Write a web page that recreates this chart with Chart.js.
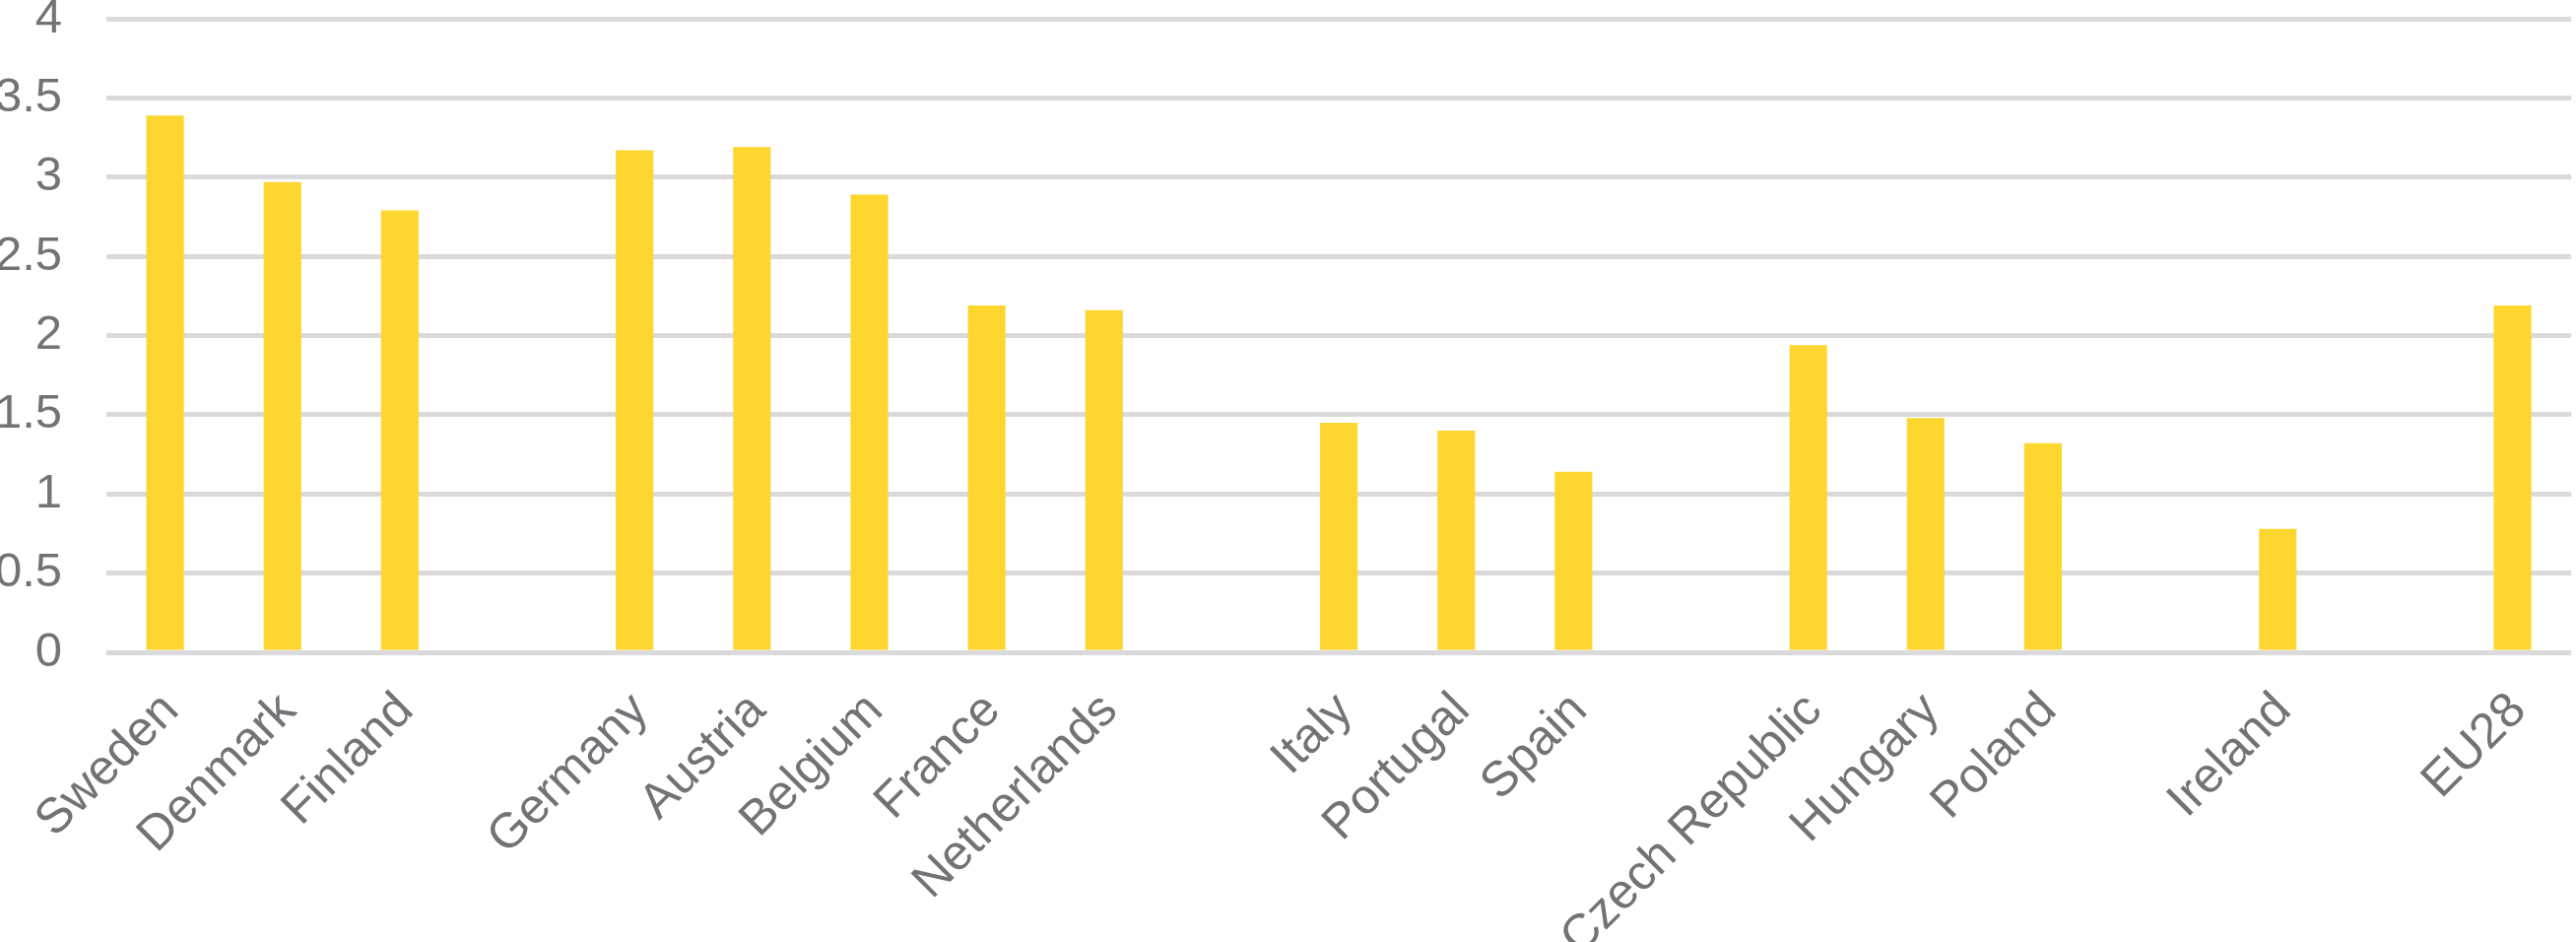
<!DOCTYPE html>
<html>
<head>
<meta charset="utf-8">
<script src="https://cdn.jsdelivr.net/npm/chart.js@4"></script>
<style>
  html, body { margin: 0; padding: 0; background: #fff; }
  #wrap { width: 2615px; height: 956px; }
</style>
</head>
<body>
<div id="wrap"><canvas id="myChart"></canvas></div>
<script>
// empty strings are the gaps between country groups
const countries = ['Sweden', 'Denmark', 'Finland', '', 'Germany', 'Austria', 'Belgium', 'France', 'Netherlands', '',
  'Italy', 'Portugal', 'Spain', '', 'Czech Republic', 'Hungary', 'Poland', '', 'Ireland', '', 'EU28'];
const values = [3.39, 2.97, 2.79, null, 3.17, 3.19, 2.89, 2.19, 2.16, null,
  1.45, 1.40, 1.14, null, 1.94, 1.48, 1.32, null, 0.78, null, 2.19];
const yTicks = [0, 0.5, 1, 1.5, 2, 2.5, 3, 3.5, 4];

const chart = document.getElementById("myChart")

const myData = {
  labels: countries,
  datasets: [{
    data: values,
    backgroundColor: '#fdd630',
    barPercentage: 0.32,
    categoryPercentage: 1
  }]
};

const family = "'Liberation Sans', Arial, sans-serif";

const myConfig = {
  type: 'bar',
  data: myData,
  options: {
    responsive: true,
    maintainAspectRatio: false,
    animation: false,
    scales: {
      x: {
        grid: { display: false },
        border: { display: false },
        ticks: {
          color: '#737377',
          font: { family: family, size: 50 },
          minRotation: 45,
          maxRotation: 45,
          autoSkip: false,
          padding: 22,
          labelOffset: 6
        },
        afterFit: (scale) => { scale.height = 294 }
      },
      y: {
        min: 0,
        max: 4,
        border: { display: false },
        grid: { color: '#dadadc', lineWidth: 5, drawTicks: true, tickLength: 45, tickColor: 'rgba(0,0,0,0)' },
        afterBuildTicks: (scale) => { scale.ticks = yTicks.map(v => ({ value: v })) },
        ticks: {
          color: '#737377',
          font: { family: family, size: 49, lineHeight: 0.78 },
          padding: 0,
          callback: (v) => String(v)
        },
        afterFit: (scale) => { scale.width = 108 }
      }
    },
    plugins: {
      legend: { display: false },
      tooltip: { enabled: false }
    }
  }
};

new Chart(chart, myConfig);
</script>
</body>
</html>
